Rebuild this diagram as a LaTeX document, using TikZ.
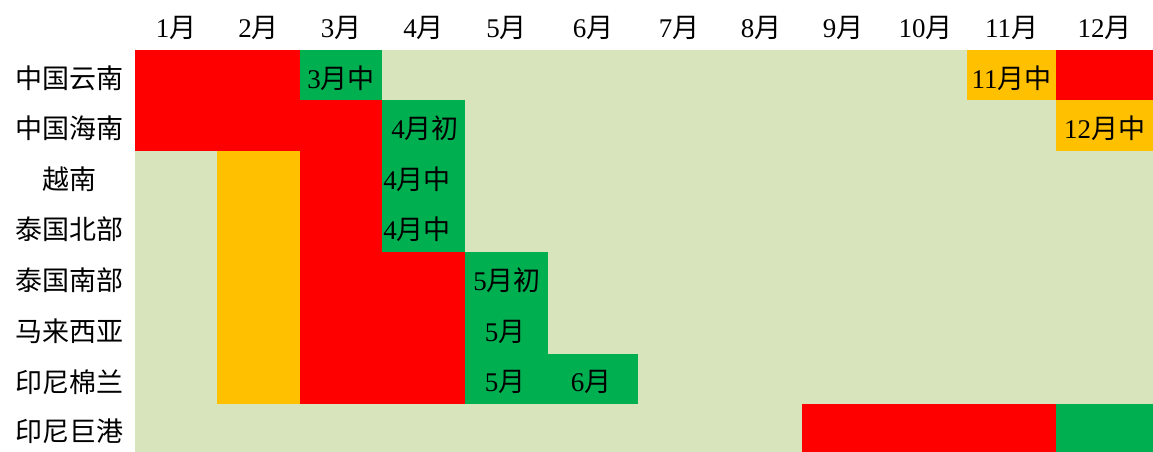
\documentclass[tikz,border=0pt]{standalone}
\usepackage{fontspec}
\setmainfont{Liberation Serif}
\newfontfamily\cjk{Noto Sans CJK SC}
\newcommand\zh[1]{{\cjk #1}}
\definecolor{cred}{HTML}{FF0000}
\definecolor{cgreen}{HTML}{00B050}
\definecolor{corange}{HTML}{FFC000}
\definecolor{clight}{HTML}{D8E4BC}
\begin{document}
\begin{tikzpicture}[x=1pt,y=-1pt,
  txt/.style={inner sep=0pt,font=\fontsize{27}{32}\selectfont,anchor=center},
  redc/.style={fill=cred},
  greenc/.style={fill=cgreen},
  orangec/.style={fill=corange}]
\useasboundingbox (0,0) rectangle (1153,452);
\fill[white] (0,0) rectangle (1153,452);
\fill[clight] (135,50) rectangle (1153,452);
% red cells
\path[redc] (135,50) rectangle (300,100);
\path[redc] (1056,50) rectangle (1153,100);
\path[redc] (135,100) rectangle (382,151);
\path[redc] (300,151) rectangle (382,252);
\path[redc] (300,252) rectangle (465,404);
\path[redc] (802,404) rectangle (1056,452);
% green cells
\path[greenc] (300,50) rectangle (382,100);
\path[greenc] (382,100) rectangle (465,151);
\path[greenc] (382,151) rectangle (465,252);
\path[greenc] (465,252) rectangle (548,354);
\path[greenc] (465,354) rectangle (638,404);
\path[greenc] (1056,404) rectangle (1153,452);
% orange cells
\path[orangec] (967,50) rectangle (1056,100);
\path[orangec] (1056,100) rectangle (1153,151);
\path[orangec] (217,151) rectangle (300,404);
% header
\foreach \x/\m [count=\i] in {176/1,258.5/2,341/3,423.5/4,506.5/5,593/6,679/7,761/8,843/9,925.5/10,1011.5/11,1104.5/12}
  \node[txt] (h\i) at (\x,27.5) {\m\zh{月}};
% row labels
\node[txt] (r1) at (69,78) {\zh{中国云南}};
\node[txt] (r2) at (69,128.5) {\zh{中国海南}};
\node[txt] (r3) at (69,179) {\zh{越南}};
\node[txt] (r4) at (69,229.5) {\zh{泰国北部}};
\node[txt] (r5) at (69,280.5) {\zh{泰国南部}};
\node[txt] (r6) at (69,331.5) {\zh{马来西亚}};
\node[txt] (r7) at (69,382) {\zh{印尼棉兰}};
\node[txt] (r8) at (69,431) {\zh{印尼巨港}};
% cell texts
\node[txt] (t1) at (341,78) {3\zh{月中}};
\node[txt] (t2) at (1011.5,78) {11\zh{月中}};
\node[txt] (t3) at (425,128.5) {4\zh{月初}};
\node[txt] (t4) at (1104.5,128.5) {12\zh{月中}};
\node[txt] (t5) at (417,179) {4\zh{月中}};
\node[txt] (t6) at (417,229.5) {4\zh{月中}};
\node[txt] (t7) at (507,280.5) {5\zh{月初}};
\node[txt] (t8) at (505,331.5) {5\zh{月}};
\node[txt] (t9) at (505,382) {5\zh{月}};
\node[txt] (t10) at (591,382) {6\zh{月}};
\end{tikzpicture}
\end{document}
